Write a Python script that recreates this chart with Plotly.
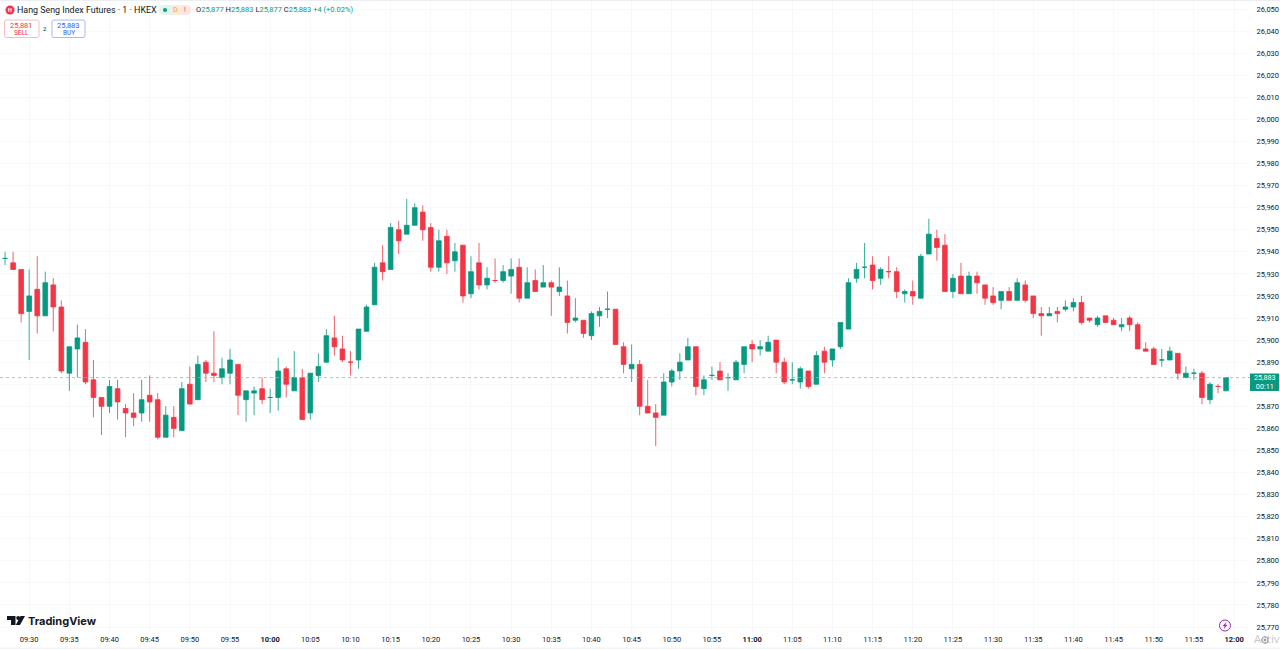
import pandas as pd
import plotly.graph_objects as go

# one minute bars, 09:27 to 11:59
times = pd.date_range("2025-01-02 09:27", periods=153, freq="1min")
opens = [25937,25935,25932,25913,25923,25911,25925,25915,25885,25896,25899,25882,25874,25870,25878,25869,25867,25867,25875,25873,25856,25865,25859,25880,25873,
         25890,25885,25883,25885,25889,25873,25876,25878,25874,25874,25887,25877,25883,25867,25884,25890,25901,25896,25890,25891,25904,25916,25935,25932,25950,25948,
         25952,25958,25951,25933,25947,25936,25943,25921,25935,25925,25927,25927,25929,25933,25919,25927,25924,25926,25922,25920,25909,25909,25902,25911,25914,
         25914,25897,25887,25889,25870,25867,25866,25881,25886,25891,25897,25878,25884,25886,25883,25882,25889,25898,25896,25895,25900,25890,25882,25881,25886,
         25880,25895,25891,25897,25905,25928,25933,25934,25928,25931,25931,25921,25922,25919,25939,25946,25943,25922,25929,25921,25929,25925,25920,25918,25922,
         25918,25925,25920,25912,25911,25913,25914,25915,25917,25910,25907,25911,25909,25906,25910,25907,25896,25896,25891,25891,25894,25883,25885,25885,25873,25879,25877]
highs = [25940,25940,25932,25932,25938,25931,25928,25918,25897,25907,25905,25891,25874,25882,25882,25871,25876,25882,25884,25876,25870,25870,25881,25888,25893,
         25891,25904,25892,25896,25889,25877,25879,25883,25878,25892,25888,25895,25887,25885,25894,25905,25911,25902,25895,25905,25916,25935,25943,25953,25954,25964,
         25962,25961,25953,25950,25950,25944,25943,25938,25944,25933,25937,25934,25937,25937,25933,25932,25934,25927,25933,25927,25919,25909,25913,25915,25922,
         25914,25899,25898,25891,25882,25871,25885,25887,25894,25901,25897,25884,25888,25890,25885,25891,25897,25900,25900,25902,25900,25892,25890,25888,25886,
         25895,25897,25896,25908,25928,25935,25944,25938,25933,25938,25933,25923,25927,25939,25955,25950,25948,25930,25935,25931,25931,25925,25924,25922,25924,
         25928,25927,25920,25915,25915,25915,25918,25919,25920,25910,25911,25911,25910,25910,25911,25908,25899,25897,25896,25897,25894,25888,25887,25886,25881,25880,25883]
lows = [25934,25932,25908,25891,25903,25911,25904,25885,25877,25883,25880,25865,25857,25867,25864,25856,25861,25863,25863,25855,25856,25856,25859,25871,25873,
        25881,25881,25880,25880,25866,25863,25866,25871,25867,25868,25874,25877,25864,25864,25881,25890,25893,25890,25884,25887,25904,25916,25927,25932,25939,25948,
        25952,25945,25931,25931,25930,25931,25917,25919,25923,25923,25926,25926,25921,25917,25919,25922,25924,25911,25920,25903,25908,25901,25900,25906,25910,
        25898,25885,25881,25866,25867,25852,25866,25879,25882,25891,25875,25875,25882,25882,25877,25882,25885,25890,25893,25895,25885,25880,25880,25878,25878,
        25880,25885,25888,25896,25905,25926,25928,25923,25925,25928,25919,25917,25916,25919,25939,25936,25922,25919,25921,25921,25921,25916,25916,25914,25918,
        25918,25917,25910,25902,25911,25908,25913,25913,25907,25908,25906,25908,25907,25904,25904,25896,25895,25889,25888,25891,25882,25883,25882,25871,25871,25876,25877]
closes = [25937,25932,25912,25920,25911,25926,25915,25886,25897,25901,25881,25874,25870,25879,25872,25867,25865,25873,25872,25856,25866,25860,25878,25871,25889,
          25885,25884,25887,25891,25875,25877,25877,25873,25874,25886,25880,25883,25864,25885,25888,25902,25897,25891,25890,25905,25915,25933,25931,25951,25945,25952,
          25960,25950,25933,25945,25935,25940,25920,25931,25925,25928,25927,25931,25932,25919,25926,25922,25926,25924,25924,25908,25910,25903,25912,25913,25914,
          25898,25889,25889,25870,25867,25865,25881,25886,25890,25897,25879,25882,25884,25882,25883,25890,25897,25896,25897,25899,25890,25881,25882,25887,25879,
          25893,25890,25896,25908,25926,25932,25933,25927,25932,25931,25922,25922,25920,25938,25948,25942,25922,25928,25921,25929,25926,25919,25917,25922,25918,
          25926,25918,25912,25911,25912,25912,25915,25917,25908,25909,25910,25908,25907,25907,25907,25896,25895,25889,25891,25895,25885,25885,25885,25874,25880,25879,25883]

tick_times = ["09:30","09:35","09:40","09:45","09:50","09:55","10:00","10:05","10:10","10:15","10:20","10:25","10:30","10:35","10:40","10:45",
              "10:50","10:55","11:00","11:05","11:10","11:15","11:20","11:25","11:30","11:35","11:40","11:45","11:50","11:55","12:00"]
bold_times = ["10:00", "11:00", "12:00"]
tick_prices = list(range(25770, 26051, 10))
hidden_prices = [25880]  # sits behind the last price tag
last_price = 25883

UP = "#089981"
DOWN = "#F23645"
TEXT = "#131722"
GRID = "#f7f8f9"
FONT = "Roboto"
PLOT_W = 1250
PLOT_H = 633


def fx(p):
    return p / PLOT_W


def fy(p):
    return 1 - p / PLOT_H


def label(x, y, text, size=7.5, color=TEXT, anchor="left", family=FONT):
    fig.add_annotation(x=fx(x), y=fy(y), xref="paper", yref="paper", text=text, showarrow=False,
                       xanchor=anchor, yanchor="middle", font=dict(size=size, color=color, family=family),
                       borderpad=0, borderwidth=0)


def box(x0, y0, x1, y1, color, fill="rgba(0,0,0,0)", r=2, width=0.8):
    path = (f"M{fx(x0+r)},{fy(y0)} L{fx(x1-r)},{fy(y0)} Q{fx(x1)},{fy(y0)} {fx(x1)},{fy(y0+r)} "
            f"L{fx(x1)},{fy(y1-r)} Q{fx(x1)},{fy(y1)} {fx(x1-r)},{fy(y1)} "
            f"L{fx(x0+r)},{fy(y1)} Q{fx(x0)},{fy(y1)} {fx(x0)},{fy(y1-r)} "
            f"L{fx(x0)},{fy(y0+r)} Q{fx(x0)},{fy(y0)} {fx(x0+r)},{fy(y0)} Z")
    fig.add_shape(type="path", path=path, xref="paper", yref="paper", line=dict(color=color, width=width),
                  fillcolor=fill, layer="above")


def poly(points, color):
    path = "M" + " L".join(f"{fx(a)},{fy(b)}" for a, b in points) + " Z"
    fig.add_shape(type="path", path=path, xref="paper", yref="paper", line=dict(width=0), fillcolor=color, layer="above")


def circle(cx, cy, r, fill, line="rgba(0,0,0,0)", width=0):
    fig.add_shape(type="circle", xref="paper", yref="paper", x0=fx(cx-r), x1=fx(cx+r), y0=fy(cy+r), y1=fy(cy-r),
                  fillcolor=fill, line=dict(color=line, width=width), layer="above")


fig = go.Figure(go.Candlestick(
    x=times, open=opens, high=highs, low=lows, close=closes,
    increasing=dict(line=dict(color=UP, width=0.8), fillcolor=UP),
    decreasing=dict(line=dict(color=DOWN, width=0.8), fillcolor=DOWN),
    whiskerwidth=0, showlegend=False,
))

# last price line
fig.add_hline(y=last_price, line=dict(color="#6cc6b5", width=0.8, dash="dot"))

tick_vals = [f"2025-01-02 {t}" for t in tick_times]
tick_text = [f"<b>{t}</b>" if t in bold_times else t for t in tick_times]
price_text = ["" if p in hidden_prices else f"{p:,}" for p in tick_prices]

fig.update_layout(
    width=1280, height=650,
    margin=dict(l=0, r=30, t=0, b=17, pad=0),
    paper_bgcolor="white", plot_bgcolor="white",
    boxgap=0.17,
    font=dict(family=FONT, size=7.5, color=TEXT),
    xaxis=dict(type="date", rangeslider=dict(visible=False),
               range=["2025-01-02 09:26:22", "2025-01-02 12:01:59"],
               tickmode="array", tickvals=tick_vals, ticktext=tick_text, tickangle=0,
               showgrid=True, gridcolor=GRID, gridwidth=1, zeroline=False, showline=False, ticks=""),
    yaxis=dict(side="right", range=[25767.3, 26054.08], tickmode="array", tickvals=tick_prices, ticktext=price_text,
               showgrid=True, gridcolor=GRID, gridwidth=1, zeroline=False, showline=False,
               ticks="outside", ticklen=4, tickcolor="rgba(0,0,0,0)"),
)

# frame lines at the very top and bottom of the window
poly([(0, 0), (1280, 0), (1280, 0.8), (0, 0.8)], "#e6e8ec")
poly([(0, 647.8), (1280, 647.8), (1280, 648.6), (0, 648.6)], "#e6e8ec")

# header
circle(10, 10, 4.5, DOWN)
label(8, 10, "<b>H</b>", size=5.5, color="white")
label(17, 10, "Hang Seng Index Futures · 1 · HKEX", size=8.9)
box(159, 5, 191, 15, "#ffffff", fill="#e3f4ef", r=5, width=0)
box(171, 5, 191, 15, "#ffffff", fill="#fdecd9", r=5, width=0)
box(180, 5, 191, 15, "#ffffff", fill="#fde4e6", r=5, width=0)
circle(165, 10, 2, UP)
label(175, 10, "D", size=7, color="#f59a23", anchor="center")
label(185, 10, "!", size=7, color=DOWN, anchor="center")
label(196, 10,
      f"O<span style='color:{UP}'>25,877</span> H<span style='color:{UP}'>25,883</span> "
      f"L<span style='color:{UP}'>25,877</span> C<span style='color:{UP}'>25,883 +4 (+0.02%)</span>",
      size=7.5)

# order buttons
box(4.5, 20, 39, 37.5, "#f7a9b0")
box(52, 20, 85, 37.5, "#91a8ef")
label(21.5, 25, "25,881", size=7.5, color=DOWN, anchor="center")
label(21.5, 33, "SELL", size=6.5, color=DOWN, anchor="center")
label(44.5, 28.5, "2", size=6, anchor="center")
label(68.5, 25, "25,883", size=7.5, color="#2962FF", anchor="center")
label(68.5, 33, "BUY", size=6.5, color="#2962FF", anchor="center")

# last price tag
poly([(1250, 373.5), (1279, 373.5), (1279, 391), (1250, 391)], UP)
label(1264.5, 382, "25,883<br>00:11", size=7.2, color="white", anchor="center")

# logo
poly([(7, 616), (15.5, 616), (15.5, 625), (11, 625), (11, 620), (7, 620)], TEXT)
circle(18.2, 618, 2, TEXT)
poly([(20.5, 616), (25, 616), (20, 625), (15.8, 625)], TEXT)
label(28, 620.5, "<b>TradingView</b>", size=11, family="Inter")

# corner icons and the watermark
circle(1225, 625.5, 5.5, "white", line="#9c27b0", width=1)
poly([(1226.6, 621.5), (1222.6, 626.2), (1224.7, 626.2), (1223.6, 629.5), (1227.4, 624.8), (1225.3, 624.8)], "#9c27b0")
label(1254, 638, "Activ", size=11.5, color="#c8c9cc", family="Open Sans")
circle(1265, 640, 3.2, "white", line="#6a6d78", width=1)
circle(1265, 640, 1, "white", line="#6a6d78", width=0.8)

fig.write_html("out.html", config=dict(displayModeBar=False),
               post_script="document.body.style.margin='0';document.body.style.overflow='hidden';")
